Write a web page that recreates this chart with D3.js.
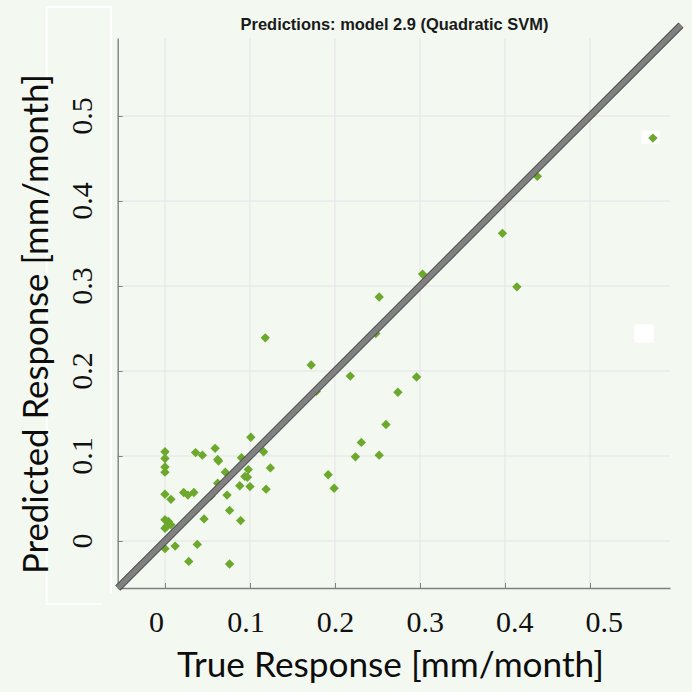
<!DOCTYPE html>
<html>
<head>
<meta charset="utf-8">
<script src="https://cdn.jsdelivr.net/npm/d3@7"></script>
<style>
  html, body { margin: 0; padding: 0; background: #f3f8f1; }
  svg { display: block; }
</style>
</head>
<body>
<svg id="chart" width="692" height="692"></svg>
<script>
// Observed (true) and model-predicted monthly response, mm/month
const trueResponse = [
  0, 0, 0, 0, 0, 0.007, 0.036, 0.044, 0.059, 0.062,
  0.063, 0.101, 0.116, 0.124, 0.090, 0.098, 0.094, 0.097, 0.088, 0.100,
  0.119, 0.071, 0.062, 0.073, 0.054, 0.076, 0.046, 0.089, 0.022, 0.027,
  0.034, 0, 0.004, 0, 0.002, 0.007, 0, 0.012, 0.038, 0.028,
  0.076, 0.118, 0.172, 0.178, 0.218, 0.296, 0.274, 0.260, 0.231, 0.224,
  0.252, 0.192, 0.199, 0.252, 0.248, 0.303, 0.397, 0.414, 0.438, 0.574
];
const predictedResponse = [
  0.105, 0.097, 0.087, 0.081, 0.055, 0.049, 0.104, 0.101, 0.109, 0.096,
  0.094, 0.122, 0.105, 0.086, 0.098, 0.084, 0.076, 0.075, 0.065, 0.064,
  0.061, 0.081, 0.068, 0.054, 0.053, 0.036, 0.026, 0.024, 0.057, 0.054,
  0.057, 0.025, 0.023, 0.015, 0.017, 0.019, -0.009, -0.006, -0.004, -0.024,
  -0.027, 0.239, 0.207, 0.176, 0.194, 0.193, 0.175, 0.137, 0.116, 0.099,
  0.101, 0.078, 0.062, 0.287, 0.244, 0.314, 0.362, 0.299, 0.429, 0.474
];
const xTickValues = [0, 0.1, 0.2, 0.3, 0.4, 0.5];
const yTickValues = [0, 0.1, 0.2, 0.3, 0.4, 0.5];
const perfectPrediction = [-0.0555, 0.607];   // y = x reference line extent

const titleText = "Predictions: model 2.9 (Quadratic SVM)";
const xLabelText = "True Response [mm/month]";
const yLabelText = "Predicted Response [mm/month]";

const points = trueResponse.map((t, i) => ({ t, p: predictedResponse[i] }));

// ---- layout ----
const plot = { left: 117.7, right: 670, top: 38, bottom: 588 };
const x = d3.scaleLinear().domain([-0.0556, 0.5941]).range([plot.left, plot.right]);
const y = d3.scaleLinear().domain([-0.0553, 0.5918]).range([plot.bottom, plot.top]);
// positions used for the serif tick captions under the x axis
const xCaption = d3.scaleLinear().domain([0, 0.5]).range([156.5, 604.3]);

const svg = d3.select("#chart");
svg.append("rect").attr("width", 692).attr("height", 692).attr("fill", "#f3f8f1");

// frame around the y tick captions
svg.append("path")
  .attr("d", "M101.7,604 H46.7 V7 H111 V593")
  .attr("fill", "none").attr("stroke", "#ffffff").attr("stroke-width", 2);

// grid
const grid = svg.append("g").attr("stroke", "#e5e3e8").attr("stroke-width", 1);
grid.selectAll("line.v").data(xTickValues).join("line")
  .attr("class", "v")
  .attr("x1", d => x(d)).attr("x2", d => x(d))
  .attr("y1", plot.top).attr("y2", plot.bottom);
grid.selectAll("line.h").data(yTickValues).join("line")
  .attr("class", "h")
  .attr("y1", d => y(d)).attr("y2", d => y(d))
  .attr("x1", plot.left).attr("x2", plot.right);

// axes with inward ticks
const axisColor = "#808080";
const gx = svg.append("g").attr("transform", `translate(0,${plot.bottom})`)
  .call(d3.axisBottom(x).tickValues(xTickValues).tickSize(-5).tickSizeOuter(0).tickFormat(""));
const gy = svg.append("g").attr("transform", `translate(${plot.left},0)`)
  .call(d3.axisLeft(y).tickValues(yTickValues).tickSize(-5).tickSizeOuter(0).tickFormat(""));
[gx, gy].forEach(g => {
  g.select(".domain").attr("stroke", axisColor).attr("stroke-width", 1.4);
  g.selectAll(".tick line").attr("stroke", axisColor).attr("stroke-width", 1);
});

// white patches
svg.append("rect")
  .attr("x", x(trueResponse[59]) - 11.3).attr("y", y(predictedResponse[59]) - 7.6)
  .attr("width", 18.3).attr("height", 13.3).attr("fill", "#ffffff");
svg.append("rect")
  .attr("x", 634.3).attr("y", 324.3).attr("width", 19.4).attr("height", 18.4).attr("fill", "#ffffff");

// data markers (diamonds)
svg.append("g").selectAll("path").data(points).join("path")
  .attr("d", d3.symbol(d3.symbolSquare, 44)())
  .attr("transform", d => `translate(${x(d.t)},${y(d.p)}) rotate(45)`)
  .attr("fill", "#6ca82c");

// perfect prediction line
const diag = perfectPrediction.map(v => [v, v]);
const lineGen = d3.line().x(d => x(d[0])).y(d => y(d[1]));
svg.append("path").datum(diag).attr("d", lineGen)
  .attr("stroke", "#4a4a4a").attr("stroke-width", 7.2).attr("fill", "none");
svg.append("path").datum(diag).attr("d", lineGen)
  .attr("stroke", "#808080").attr("stroke-width", 5.4).attr("fill", "none");

// fit a text element to a target width by adjusting its font size
function fitWidth(sel, target) {
  const len = sel.node().getComputedTextLength();
  const fs = parseFloat(sel.attr("font-size"));
  sel.attr("font-size", (fs * target / len).toFixed(2));
  return sel;
}

// title
fitWidth(svg.append("text")
  .attr("x", 394.5).attr("y", 29.5)
  .attr("text-anchor", "middle")
  .attr("font-family", "'Liberation Sans', Arial, sans-serif")
  .attr("font-weight", "bold").attr("font-size", 16)
  .attr("fill", "#1a1a1a")
  .text(titleText), 308);

// x tick captions
svg.append("g").selectAll("text").data(xTickValues).join("text")
  .attr("x", d => xCaption(d)).attr("y", 631.5)
  .attr("text-anchor", "middle")
  .attr("font-family", "'Liberation Serif', 'Times New Roman', serif")
  .attr("font-size", 30).attr("fill", "#111")
  .text(d => d3.format("")(d));

// y tick captions (rotated)
svg.append("g").selectAll("text").data(yTickValues).join("text")
  .attr("transform", d => `translate(92,${y(d)}) rotate(-90)`)
  .attr("text-anchor", "middle")
  .attr("font-family", "'Liberation Serif', 'Times New Roman', serif")
  .attr("font-size", 30).attr("fill", "#111")
  .text(d => d3.format("")(d));

// axis titles (narrow setting, like the original sans face)
svg.append("text")
  .attr("x", 390.5).attr("y", 677)
  .attr("text-anchor", "middle")
  .attr("font-family", "Lato, 'Noto Sans', sans-serif")
  .attr("font-size", 35.5).attr("fill", "#0d0d0d")
  .attr("textLength", 427).attr("lengthAdjust", "spacingAndGlyphs")
  .text(xLabelText);

svg.append("text")
  .attr("transform", "translate(48,324) rotate(-90)")
  .attr("text-anchor", "middle")
  .attr("font-family", "Lato, 'Noto Sans', sans-serif")
  .attr("font-size", 35.5).attr("fill", "#0d0d0d")
  .attr("textLength", 500).attr("lengthAdjust", "spacingAndGlyphs")
  .text(yLabelText);
</script>
</body>
</html>
